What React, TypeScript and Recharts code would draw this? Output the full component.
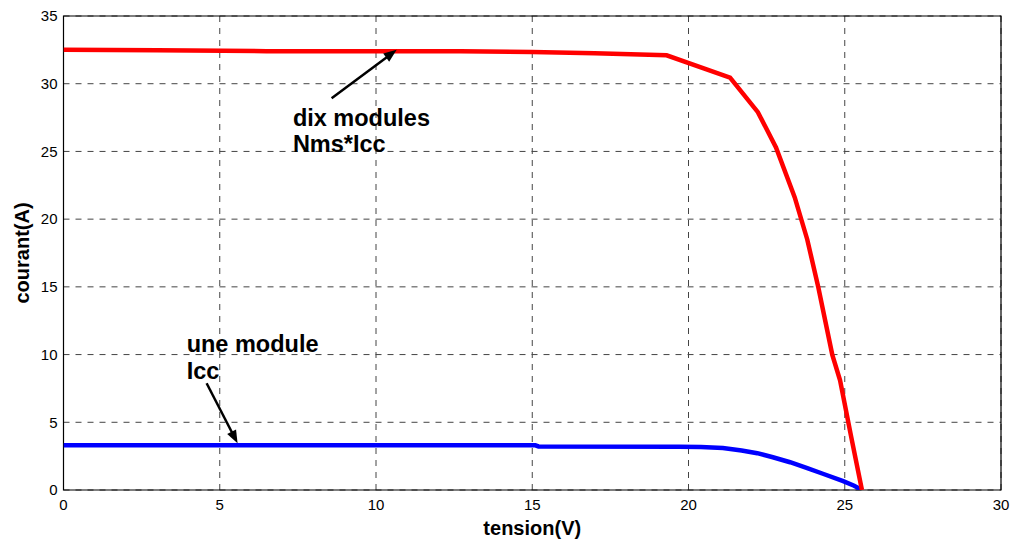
import React from 'react';
import {
  LineChart, Line, XAxis, YAxis, CartesianGrid, ReferenceArea, ReferenceLine, ReferenceDot,
} from 'recharts';

const FONT = '"Liberation Sans", Arial, Helvetica, sans-serif';

const xTicks = [0, 5, 10, 15, 20, 25, 30];
const yTicks = [0, 5, 10, 15, 20, 25, 30, 35];

// dix modules (Nms*Icc)
const redV = [0, 3, 6.5, 10, 12.7, 15, 17, 19.3, 21.33, 22.22, 22.8, 23.4, 23.8, 24.15, 24.6, 24.85, 25.2, 25.55];
const redI = [32.5, 32.48, 32.4, 32.4, 32.4, 32.35, 32.25, 32.1, 30.45, 27.9, 25.3, 21.6, 18.5, 15, 10, 8.1, 4, 0];

// une module (Icc)
const blueV = [0, 5, 10, 15.1, 15.2, 19.7, 20.4, 21.1, 21.7, 22.2, 22.7, 23.25, 23.8, 24.3, 24.95, 25.3, 25.55];
const blueI = [3.3, 3.3, 3.3, 3.3, 3.22, 3.2, 3.17, 3.1, 2.92, 2.72, 2.42, 2.05, 1.62, 1.2, 0.66, 0.32, 0];

const redData = redV.map((v, i) => ({ v, i: redI[i] }));
const blueData = blueV.map((v, i) => ({ v, i: blueI[i] }));

// annotations (data coordinates)
const arrows = [
  { from: { x: 8.58, y: 28.93 }, to: { x: 10.66, y: 32.5 } },
  { from: { x: 4.58, y: 7.88 }, to: { x: 5.57, y: 3.45 } },
];
const notes = [
  { x: 7.34, y: 26.88, text: 'dix modules' },
  { x: 7.34, y: 24.95, text: 'Nms*Icc' },
  { x: 3.94, y: 10.21, text: 'une module' },
  { x: 3.94, y: 8.2, text: 'Icc' },
];

const ArrowShape = (props: any) => {
  const { x1, y1, x2, y2 } = props;
  const dx = x2 - x1;
  const dy = y2 - y1;
  const len = Math.sqrt(dx * dx + dy * dy) || 1;
  const ux = dx / len;
  const uy = dy / len;
  const hl = 13;
  const hw = 5;
  const bx = x2 - ux * hl;
  const by = y2 - uy * hl;
  const pts = `${x2},${y2} ${bx - uy * hw},${by + ux * hw} ${bx + uy * hw},${by - ux * hw}`;
  return (
    <g>
      <line x1={x1} y1={y1} x2={bx + ux * 2} y2={by + uy * 2} stroke="#000" strokeWidth={2.5} />
      <polygon points={pts} fill="#000" />
    </g>
  );
};

const makeText = (text: string) => (props: any) => (
  <text x={props.cx} y={props.cy} fontFamily={FONT} fontWeight="bold" fontSize={23.5} fill="#000" textAnchor="start">
    {text}
  </text>
);

export default function App() {
  return (
    <div style={{ position: 'absolute', left: 0, top: 0, width: 1012, height: 543 }}>
      <LineChart width={1012} height={543} margin={{ top: 16, right: 11, bottom: 0, left: 0 }}>
        <CartesianGrid stroke="#444" strokeDasharray="6 6" strokeWidth={1} />
        <XAxis
          type="number"
          dataKey="v"
          domain={[0, 30]}
          ticks={xTicks}
          allowDataOverflow
          height={53}
          tickSize={0}
          tickMargin={9}
          tickLine={false}
          axisLine={false}
          tick={{ fontFamily: FONT, fontSize: 15, fill: '#000' }}
          label={(p: any) => {
            const vb = p.viewBox;
            return (
              <text x={vb.x + vb.width / 2} y={535} textAnchor="middle" fontFamily={FONT} fontWeight="bold" fontSize={20} fill="#000">
                tension(V)
              </text>
            );
          }}
        />
        <YAxis
          type="number"
          dataKey="i"
          domain={[0, 35]}
          ticks={yTicks}
          allowDataOverflow
          width={63.5}
          tickSize={0}
          tickMargin={6}
          tickLine={false}
          axisLine={false}
          tick={{ fontFamily: FONT, fontSize: 15, fill: '#000' }}
          label={(p: any) => {
            const vb = p.viewBox;
            const cx = 21.5;
            const cy = vb.y + vb.height / 2;
            return (
              <text x={cx} y={cy} transform={`rotate(-90, ${cx}, ${cy})`} textAnchor="middle" dominantBaseline="central" fontFamily={FONT} fontWeight="bold" fontSize={20} fill="#000">
                courant(A)
              </text>
            );
          }}
        />
        <ReferenceArea x1={0} x2={30} y1={0} y2={35} fill="none" stroke="#000" strokeWidth={1.2} ifOverflow="visible" />
        <Line data={blueData} dataKey="i" type="linear" stroke="#0000ff" strokeWidth={4.5} dot={false} isAnimationActive={false} />
        <Line data={redData} dataKey="i" type="linear" stroke="#ff0000" strokeWidth={4.5} dot={false} isAnimationActive={false} />
        {arrows.map((a, k) => (
          <ReferenceLine
            key={'a' + k}
            segment={[a.from, a.to]}
            shape={ArrowShape}
            ifOverflow="visible"
          />
        ))}
        {notes.map((n, k) => (
          <ReferenceDot key={'n' + k} x={n.x} y={n.y} r={0} ifOverflow="visible" shape={makeText(n.text)} />
        ))}
      </LineChart>
    </div>
  );
}
